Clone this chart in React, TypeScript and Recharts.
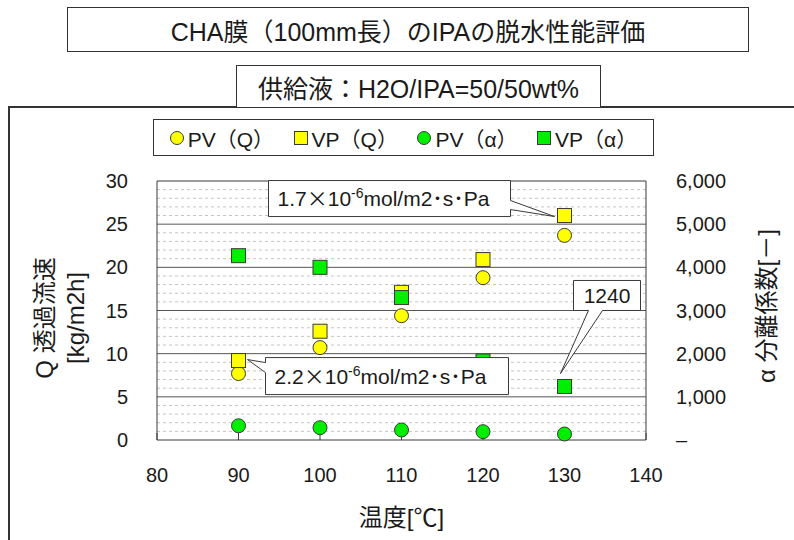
import { ScatterChart, Scatter, XAxis, YAxis, ReferenceLine, ReferenceDot } from "recharts";

// 温度[℃]
const temps = [90, 100, 110, 120, 130];
// 透過流速 Q [kg/m2h]
const pvQ = [7.7, 10.7, 14.4, 18.8, 23.7];
const vpQ = [9.2, 12.6, 17.1, 20.9, 26.0];
// 分離係数 α
const pvAlpha = [330, 285, 232, 193, 139];
const vpAlpha = [4270, 4000, 3300, 1830, 1240];

const xTicks = [80, 90, 100, 110, 120, 130, 140];
const qTicks = [0, 5, 10, 15, 20, 25, 30];
const alphaTicks = [0, 1000, 2000, 3000, 4000, 5000, 6000];
const majorGrid = [5, 10, 15, 20, 25];
const minorGrid = [1, 2, 3, 4, 6, 7, 8, 9, 11, 12, 13, 14, 16, 17, 18, 19, 21, 22, 23, 24, 26, 27, 28, 29];

const FONT = "'Liberation Sans', 'Noto Sans CJK JP', sans-serif";
const YELLOW = "#ffff00";
const GREEN = "#00ee00";
const EDGE = "#3a3a3a";
const TEXT = "#1a1a1a";

const toPoints = (ys: number[]) => temps.map((t, i) => ({ t, v: ys[i] }));

const circle = (fill: string) => (p: any) => (
  <circle cx={p.cx} cy={p.cy} r={7} fill={fill} stroke={EDGE} strokeWidth={1} />
);
const square = (fill: string) => (p: any) => (
  <rect x={p.cx - 7} y={p.cy - 7} width={14} height={14} fill={fill} stroke={EDGE} strokeWidth={1} />
);

const Unit = ({ head }: { head: string }) => (
  <>
    {head}
    <tspan fontFamily="'Noto Sans CJK JP'">×</tspan>10
    <tspan dy={-8} fontSize={14}>-6</tspan>
    <tspan dy={8}>mol/m2･s･Pa</tspan>
  </>
);

// 吹き出し (box + pointer) relative to the marked point
const calloutTop = (p: any) => {
  const { cx, cy } = p;
  const L = cx - 296, R = cx - 54, T = cy - 35, B = cy + 1;
  const d = `M${L},${T} H${R} V${cy - 15} L${cx - 10},${cy + 1} L${R},${cy - 6} V${B} H${L} Z`;
  return (
    <g>
      <path d={d} fill="#fff" stroke={EDGE} strokeWidth={1} />
      <text x={L + 9} y={cy - 10} fontSize={21} fill={TEXT} fontFamily={FONT}>
        <Unit head="1.7" />
      </text>
    </g>
  );
};

const calloutBottom = (p: any) => {
  const { cx, cy } = p;
  const L = cx + 27, R = cx + 270, T = cy - 3, B = cy + 34;
  const d = `M${L},${T} H${R} V${B} H${L} V${cy + 12} L${cx + 9},${cy - 1} L${L},${cy + 2} Z`;
  return (
    <g>
      <path d={d} fill="#fff" stroke={EDGE} strokeWidth={1} />
      <text x={L + 9} y={cy + 23} fontSize={21} fill={TEXT} fontFamily={FONT}>
        <Unit head="2.2" />
      </text>
    </g>
  );
};

const calloutAlpha = (p: any) => {
  const { cx, cy } = p;
  const L = cx + 9, R = cx + 76, T = cy - 106, B = cy - 76;
  const d = `M${L},${T} H${R} V${B} H${cx + 38} L${cx - 4},${cy - 13} L${cx + 24},${B} H${L} Z`;
  return (
    <g>
      <path d={d} fill="#fff" stroke={EDGE} strokeWidth={1} />
      <text x={(L + R) / 2} y={cy - 83} fontSize={21} textAnchor="middle" fill={TEXT} fontFamily={FONT}>
        {String(vpAlpha[4])}
      </text>
    </g>
  );
};

const axisTitles = () => (
  <g fontFamily={FONT} fill={TEXT} fontSize={24}>
    <text transform="translate(44,318) rotate(-90)" textAnchor="middle" dominantBaseline="central">
      Q 透過流速
    </text>
    <text transform="translate(75,318) rotate(-90)" textAnchor="middle" dominantBaseline="central">
      [kg/m2h]
    </text>
    <text transform="translate(766,306) rotate(-90)" textAnchor="middle" dominantBaseline="central">
      α 分離係数[－]
    </text>
  </g>
);

const legendItems = [
  { name: "PV（Q）", color: YELLOW, round: true },
  { name: "VP（Q）", color: YELLOW, round: false },
  { name: "PV（α）", color: GREEN, round: true },
  { name: "VP（α）", color: GREEN, round: false },
];

export default function App() {
  return (
    <div style={{ position: "absolute", left: 0, top: 0, width: 794, height: 540, background: "#fff", fontFamily: FONT, color: TEXT }}>
      <div style={{ position: "absolute", left: 8, top: 106, right: 0, bottom: 0, borderTop: "2px solid #333", borderLeft: "2px solid #333" }} />
      <ScatterChart width={794} height={540} margin={{ top: 181, right: 0, left: 0, bottom: 0 }} style={{ position: "absolute", left: 0, top: 0 }}>
        {minorGrid.map((v) => (
          <ReferenceLine key={"m" + v} yAxisId="q" y={v} stroke="#c4c4c4" strokeDasharray="3 3" />
        ))}
        {majorGrid.map((v) => (
          <ReferenceLine key={"M" + v} yAxisId="q" y={v} stroke="#555" />
        ))}
        <ReferenceLine yAxisId="q" y={30} stroke={EDGE} />
        <ReferenceLine yAxisId="q" x={80} stroke={EDGE} />
        <ReferenceLine yAxisId="q" x={140} stroke={EDGE} />
        <XAxis
          type="number"
          dataKey="t"
          domain={[80, 140]}
          ticks={xTicks}
          height={100}
          stroke={EDGE}
          tickSize={-7}
          tickMargin={35}
          tick={{ fill: TEXT, fontSize: 20, fontFamily: FONT }}
          label={{ value: "温度[℃]", position: "insideBottom", offset: 14, fontSize: 24, fill: TEXT, fontFamily: FONT }}
        />
        <YAxis
          yAxisId="q"
          type="number"
          dataKey="v"
          domain={[0, 30]}
          ticks={qTicks}
          width={157}
          axisLine={false}
          tickLine={false}
          tickSize={0}
          tickMargin={29}
          tick={{ fill: TEXT, fontSize: 20, fontFamily: FONT }}
        />
        <YAxis
          yAxisId="a"
          orientation="right"
          type="number"
          dataKey="v"
          domain={[0, 6000]}
          ticks={alphaTicks}
          width={148}
          axisLine={false}
          tickLine={false}
          tickSize={0}
          tickMargin={30}
          tickFormatter={(v: number) => (v === 0 ? "–" : v.toLocaleString("en-US"))}
          tick={{ fill: TEXT, fontSize: 20, fontFamily: FONT, textAnchor: "start" }}
        />
        <Scatter name="PV（Q）" yAxisId="q" data={toPoints(pvQ)} shape={circle(YELLOW)} isAnimationActive={false} />
        <Scatter name="VP（Q）" yAxisId="q" data={toPoints(vpQ)} shape={square(YELLOW)} isAnimationActive={false} />
        <Scatter name="PV（α）" yAxisId="a" data={toPoints(pvAlpha)} shape={circle(GREEN)} isAnimationActive={false} />
        <Scatter name="VP（α）" yAxisId="a" data={toPoints(vpAlpha)} shape={square(GREEN)} isAnimationActive={false} />
        <ReferenceDot yAxisId="q" x={temps[4]} y={vpQ[4]} shape={calloutTop} ifOverflow="visible" />
        <ReferenceDot yAxisId="q" x={temps[0]} y={vpQ[0]} shape={calloutBottom} ifOverflow="visible" />
        <ReferenceDot yAxisId="a" x={temps[4]} y={vpAlpha[4]} shape={calloutAlpha} ifOverflow="visible" />
        <ReferenceDot yAxisId="q" x={80} y={0} shape={axisTitles} ifOverflow="visible" />
      </ScatterChart>

      <div style={{ position: "absolute", left: 67, top: 7, width: 680, height: 43, border: "1px solid #333", background: "#fff", display: "flex", alignItems: "center", justifyContent: "center", fontSize: 25 }}>
        CHA膜（100mm長）のIPAの脱水性能評価
      </div>
      <div style={{ position: "absolute", left: 236, top: 65, width: 363, height: 41, border: "1px solid #333", background: "#fff", display: "flex", alignItems: "center", justifyContent: "center", fontSize: 25 }}>
        供給液：H2O/IPA=50/50wt%
      </div>
      <div style={{ position: "absolute", left: 153, top: 119, width: 501, height: 37, border: "1px solid #333", background: "#fff", display: "flex", alignItems: "center", justifyContent: "space-around", fontSize: 21, padding: "0 6px", boxSizing: "border-box" }}>
        {legendItems.map((it) => (
          <span key={it.name} style={{ display: "flex", alignItems: "center" }}>
            <span style={{ display: "inline-block", width: 12, height: 12, marginRight: 4, background: it.color, border: `1px solid ${EDGE}`, borderRadius: it.round ? "50%" : 0 }} />
            {it.name}
          </span>
        ))}
      </div>
    </div>
  );
}
